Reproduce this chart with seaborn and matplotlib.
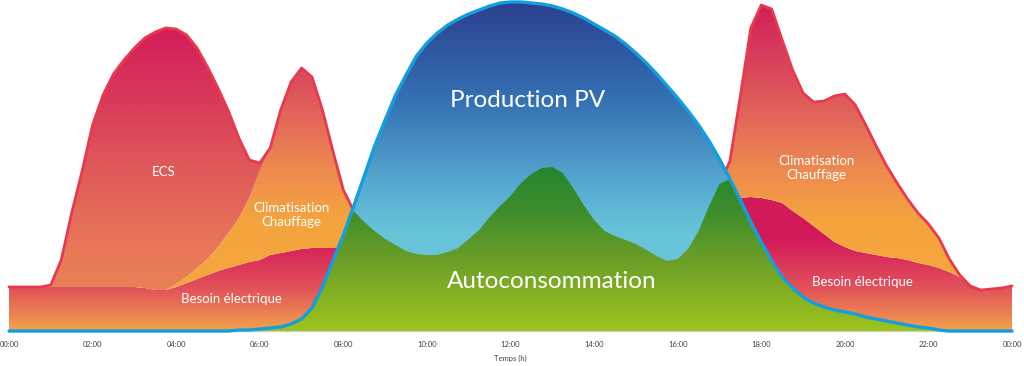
import numpy as np
import matplotlib
matplotlib.use("Agg")
import matplotlib.pyplot as plt
import seaborn as sns
from matplotlib.colors import LinearSegmentedColormap
from matplotlib.path import Path
from matplotlib.patches import PathPatch

# ---------------- data (arbitrary power units, sampled every 15 min) ----------------
hours = [0, 0.25, 0.5, 0.75, 1, 1.25, 1.5, 1.75, 2, 2.25, 2.5, 2.75,
         3, 3.25, 3.5, 3.75, 4, 4.25, 4.5, 4.75, 5, 5.25, 5.5, 5.75,
         6, 6.25, 6.5, 6.75, 7, 7.25, 7.5, 7.75, 8, 8.25, 8.5, 8.75,
         9, 9.25, 9.5, 9.75, 10, 10.25, 10.5, 10.75, 11, 11.25, 11.5, 11.75,
         12, 12.25, 12.5, 12.75, 13, 13.25, 13.5, 13.75, 14, 14.25, 14.5, 14.75,
         15, 15.25, 15.5, 15.75, 16, 16.25, 16.5, 16.75, 17, 17.25, 17.5, 17.75,
         18, 18.25, 18.5, 18.75, 19, 19.25, 19.5, 19.75, 20, 20.25, 20.5, 20.75,
         21, 21.25, 21.5, 21.75, 22, 22.25, 22.5, 22.75, 23, 23.25, 23.5, 23.75,
         24]

besoin = [44, 44, 44, 44, 44, 44, 44, 44, 44, 44, 44, 44,
          44, 43, 41, 41, 44, 48, 52, 56, 60, 63, 66, 69,
          71, 76, 78, 80, 82, 83, 83, 83, 83, 82, 80, 78,
          76, 74, 72, 71, 70, 70, 70, 71, 72, 73, 75, 76,
          78, 79, 80, 80, 80, 79, 78, 77, 76, 75, 74, 73,
          72, 71, 70, 68, 68, 72, 80, 95, 110, 125, 133, 134,
          133, 131, 128, 120, 113, 105, 97, 89, 84, 80, 78, 76,
          74, 73, 71, 68, 66, 63, 59, 54, 45, 41, 42, 43,
          45]

clim = [0, 0, 0, 0, 0, 0, 0, 0, 0, 0, 0, 0,
        0, 0, 0, 0, 3, 6, 11, 16, 24, 35, 47, 64,
        89, 107, 143, 169, 181, 171, 138, 97, 58, 38, 29, 22,
        16, 12, 8, 6, 6, 6, 9, 12, 20, 28, 39, 49,
        57, 69, 77, 83, 84, 79, 65, 49, 35, 25, 21, 18,
        15, 10, 5, 2, 4, 10, 20, 30, 37, 45, 102, 169,
        193, 191, 163, 141, 125, 124, 133, 146, 153, 146, 128, 109,
        91, 75, 61, 50, 41, 30, 13, 2, 0, 0, 0, 0,
        0]

ecs = [0, 0, 0, 0, 2, 27, 74, 116, 162, 192, 213, 227,
       239, 250, 258, 262, 255, 242, 220, 192, 159, 122, 80, 38,
       8, 0, 0, 0, 0, 0, 0, 0, 0, 0, 0, 0,
       0, 0, 0, 0, 0, 0, 0, 0, 0, 0, 0, 0,
       0, 0, 0, 0, 0, 0, 0, 0, 0, 0, 0, 0,
       0, 0, 0, 0, 0, 0, 0, 0, 0, 0, 0, 0,
       0, 0, 0, 0, 0, 0, 0, 0, 0, 0, 0, 0,
       0, 0, 0, 0, 0, 0, 0, 0, 0, 0, 0, 0,
       0]

pv = [0, 0, 0, 0, 0, 0, 0, 0, 0, 0, 0, 0,
      0, 0, 0, 0, 0, 0, 0, 0, 0, 0, 1, 1,
      2, 3, 4, 7, 12, 23, 44, 70, 96, 125, 155, 185,
      211, 236, 256, 275, 288, 298, 306, 312, 317, 321, 325, 328,
      329, 329, 328, 327, 325, 322, 318, 313, 307, 301, 295, 287,
      278, 268, 257, 245, 233, 220, 206, 190, 172, 152, 131, 109,
      89, 70, 54, 43, 34, 28, 24, 21, 19, 17, 14, 12,
      10, 8, 6, 4, 3, 1, 0, 0, 0, 0, 0, 0,
      0]

tick_hours = [0, 2, 4, 6, 8, 10, 12, 14, 16, 18, 20, 22, 24]
tick_labels = ["00:00", "02:00", "04:00", "06:00", "08:00", "10:00", "12:00",
               "14:00", "16:00", "18:00", "20:00", "22:00", "00:00"]

x = np.array(hours, dtype=float)
b = np.array(besoin, dtype=float)
c = np.array(clim, dtype=float)
e = np.array(ecs, dtype=float)
p = np.array(pv, dtype=float)
bc = b + c
total = bc + e
auto = np.minimum(total, p)  # self-consumption = min(load, production)

YMAX = 331.0

sns.set_theme(style="white")
plt.rcParams["font.family"] = ["Lato", "DejaVu Sans"]

fig = plt.figure(figsize=(10.24, 3.66), dpi=100)
ax = fig.add_axes([0.0088, 0.0956, 0.9795, 0.9044])


def stops_px(lst):
    out = [(1 - py / YMAX, col) for py, col in lst]
    out.sort(key=lambda t: t[0])
    return out


def grad_fill(lo, hi, stops, z):
    coll = ax.fill_between(x, lo, hi, facecolor="none", edgecolor="none", linewidth=0)
    path = Path.make_compound_path(*coll.get_paths())
    patch = PathPatch(path, transform=ax.transData, facecolor="none", edgecolor="none")
    ax.add_patch(patch)
    cmap = LinearSegmentedColormap.from_list("g", stops_px(stops))
    g = np.linspace(0, 1, 600).reshape(-1, 1)
    im = ax.imshow(g, extent=[0, 24, 0, YMAX], origin="lower", aspect="auto",
                   cmap=cmap, vmin=0, vmax=1, zorder=z, interpolation="bilinear")
    im.set_clip_path(patch)


besoin_stops = [(0, "#d2195a"), (240, "#d31a5a"), (290, "#e2535a"), (331, "#f2a24a")]
clim_stops = [(0, "#d11b5b"), (60, "#d9405a"), (120, "#e3685a"), (170, "#ed8a4f"),
              (220, "#f4a43e"), (331, "#f5a83c")]
ecs_stops = [(0, "#d01a5b"), (28, "#d31d5b"), (100, "#d83a5a"), (170, "#e05a5a"),
             (250, "#e87858"), (331, "#ec8a56")]
pv_stops = [(0, "#2b3f8f"), (100, "#3570b3"), (180, "#54a6cf"), (230, "#67c3d8"),
            (331, "#6cc8da")]
green_stops = [(0, "#1f8030"), (165, "#23862f"), (210, "#3d8c2c"), (260, "#6a9e28"),
               (300, "#88b321"), (331, "#9cc31c")]

grad_fill(np.zeros_like(b), b, besoin_stops, 1)
grad_fill(b, bc, clim_stops, 1.1)
grad_fill(bc, total, ecs_stops, 1.2)
sns.lineplot(x=x, y=total, ax=ax, color="#e8394f", linewidth=2.0, zorder=3,
             solid_capstyle="round", solid_joinstyle="round", clip_on=False)
grad_fill(np.zeros_like(p), p, pv_stops, 4)
grad_fill(np.zeros_like(auto), auto, green_stops, 5)
sns.lineplot(x=x, y=p, ax=ax, color="#129fe0", linewidth=2.4, zorder=6,
             solid_capstyle="round", solid_joinstyle="round", clip_on=False)

# labels
lab = dict(color="white", ha="center", va="center", zorder=7)
ax.text(3.71, 159, "ECS", fontsize=9.5, **lab)
ax.text(6.75, 116, "Climatisation\nChauffage", fontsize=9.5, linespacing=1.15, **lab)
ax.text(5.32, 32, "Besoin électrique", fontsize=9.5, **lab)
ax.text(12.41, 231, "Production PV", fontsize=17.5, **lab)
ax.text(12.98, 50, "Autoconsommation", fontsize=17.5, **lab)
ax.text(19.33, 163, "Climatisation\nChauffage", fontsize=9.5, linespacing=1.15, **lab)
ax.text(20.41, 49, "Besoin électrique", fontsize=9.5, **lab)

ax.set_xlim(0, 24)
ax.set_ylim(0, YMAX)
ax.set_xticks(tick_hours)
ax.set_xticklabels(tick_labels, fontsize=5.5, color="#444444")
ax.set_yticks([])
ax.tick_params(axis="x", length=0, pad=7)
ax.set_xlabel("Temps (h)", fontsize=5.5, color="#444444", labelpad=5)
ax.set_ylabel("")
for s in ["top", "left", "right"]:
    ax.spines[s].set_visible(False)
ax.spines["bottom"].set_color("#cfcfcf")
ax.spines["bottom"].set_linewidth(1.0)
if ax.get_legend():
    ax.get_legend().remove()

fig.savefig("out.png", dpi=100, facecolor="white")
